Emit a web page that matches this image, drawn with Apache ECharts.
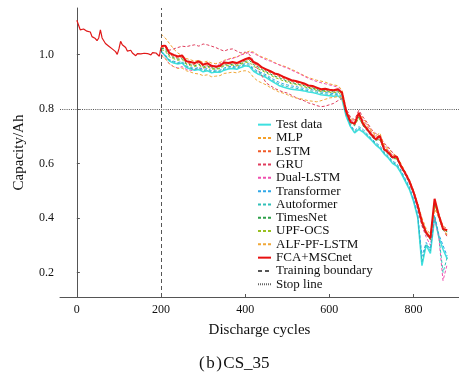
<!DOCTYPE html>
<html>
<head>
<meta charset="utf-8">
<script src="https://cdn.jsdelivr.net/npm/echarts@6/dist/echarts.min.js"></script>
<style>html,body{margin:0;padding:0;background:#fff;}#c{width:459px;height:373px;}</style>
</head>
<body>
<div id="c"></div>
<script>
// ---------- data ----------
const historyCycles = [0,4,8,12,16,20,24,28,32,36,40,44,48,52,56,60,64,68,72,76,80,84,88,92,96,100,104,108,112,116,120,124,128,132,136,140,144,148,152,156,160,164,168,172,176,180,184,188,192,196,200];
const historyCapacity = [1.125,1.118,1.09,1.095,1.093,1.09,1.085,1.078,1.082,1.065,1.072,1.058,1.05,1.06,1.09,1.06,1.05,1.04,1.04,1.03,1.025,1.02,1.018,1.01,1.0,1.02,1.048,1.035,1.03,1.025,1.012,1.018,1.015,1.005,1.01,0.995,1.003,0.998,1.002,0.996,1.004,0.997,1.003,1.005,0.998,1.006,1.002,1.005,1.008,0.993,1.026];

const predCycles = [200,210,220,230,240,250,260,270,280,290,300,310,320,330,340,350,360,370,380,390,400,410,420,430,440,450,460,470,480,490,500,510,520,530,540,550,560,570,580,590,600,610,620,630,640,650,660,670,680,690,700,710,720,730,740,750,760,770,780,790,800,810,820,830,840,850,860,870,880];

const testData = [1.012,0.995,0.975,0.968,0.965,0.968,0.952,0.946,0.942,0.944,0.936,0.940,0.932,0.935,0.934,0.942,0.946,0.948,0.945,0.952,0.958,0.955,0.938,0.928,0.922,0.915,0.905,0.895,0.886,0.880,0.876,0.872,0.870,0.868,0.866,0.862,0.860,0.856,0.852,0.850,0.848,0.846,0.848,0.835,0.772,0.735,0.712,0.725,0.715,0.700,0.685,0.668,0.655,0.635,0.620,0.600,0.590,0.565,0.535,0.505,0.460,0.400,0.225,0.300,0.270,0.400,0.330,0.285,0.250];
const mlp = [1.075,1.06,1.04,1.02,1.005,0.995,0.985,0.98,0.975,0.978,0.97,0.975,0.968,0.966,0.97,0.978,0.982,0.988,0.99,0.998,1.005,1.012,1.008,0.998,0.99,0.985,0.978,0.97,0.962,0.958,0.952,0.945,0.938,0.93,0.922,0.915,0.91,0.905,0.902,0.898,0.892,0.888,0.885,0.87,0.80,0.765,0.755,0.78,0.765,0.745,0.72,0.705,0.69,0.67,0.655,0.64,0.625,0.60,0.57,0.54,0.50,0.45,0.40,0.36,0.34,0.43,0.41,0.37,0.33];
const lstm = [1.025,1.028,1.0,0.992,0.986,0.99,0.97,0.966,0.962,0.97,0.957,0.962,0.953,0.951,0.954,0.965,0.964,0.968,0.963,0.97,0.978,0.982,0.966,0.96,0.948,0.94,0.933,0.925,0.92,0.913,0.907,0.90,0.897,0.893,0.889,0.882,0.88,0.874,0.869,0.87,0.867,0.865,0.868,0.856,0.795,0.76,0.75,0.78,0.75,0.73,0.71,0.694,0.705,0.66,0.645,0.628,0.63,0.596,0.57,0.54,0.50,0.45,0.39,0.35,0.33,0.46,0.415,0.37,0.36];
const gru = [1.03,1.035,1.015,1.02,1.025,1.03,1.028,1.032,1.035,1.03,1.038,1.035,1.03,1.025,1.018,1.012,1.018,1.02,1.012,1.005,1.008,1.0,0.975,0.945,0.92,0.895,0.885,0.875,0.868,0.862,0.858,0.85,0.842,0.835,0.83,0.822,0.818,0.812,0.808,0.81,0.815,0.82,0.83,0.838,0.80,0.77,0.76,0.795,0.77,0.75,0.725,0.71,0.70,0.675,0.66,0.64,0.62,0.595,0.565,0.53,0.49,0.44,0.39,0.35,0.33,0.45,0.40,0.36,0.33];
const dualLstm = [1.0,0.985,0.965,0.955,0.95,0.955,0.945,0.94,0.945,0.95,0.948,0.955,0.955,0.96,0.965,0.975,0.982,0.985,0.99,0.998,1.002,1.008,1.005,0.995,0.988,0.98,0.975,0.968,0.962,0.955,0.95,0.942,0.935,0.928,0.92,0.912,0.906,0.90,0.896,0.892,0.888,0.884,0.88,0.862,0.795,0.76,0.75,0.77,0.76,0.74,0.715,0.70,0.68,0.665,0.648,0.63,0.615,0.59,0.56,0.53,0.49,0.43,0.37,0.33,0.30,0.40,0.33,0.17,0.23];
const transformer = [1.008,0.998,0.98,0.975,0.97,0.974,0.958,0.952,0.948,0.952,0.944,0.948,0.94,0.942,0.942,0.95,0.955,0.956,0.953,0.96,0.966,0.965,0.948,0.938,0.932,0.925,0.915,0.906,0.898,0.892,0.888,0.884,0.882,0.878,0.875,0.872,0.87,0.866,0.862,0.86,0.858,0.856,0.858,0.845,0.78,0.742,0.72,0.735,0.725,0.708,0.692,0.676,0.665,0.642,0.628,0.608,0.60,0.575,0.545,0.515,0.47,0.415,0.26,0.31,0.285,0.41,0.34,0.30,0.26];
const autoformer = [1.01,0.992,0.978,0.972,0.967,0.97,0.955,0.949,0.945,0.948,0.94,0.944,0.936,0.938,0.938,0.946,0.95,0.952,0.949,0.956,0.962,0.96,0.943,0.933,0.927,0.92,0.91,0.90,0.892,0.886,0.882,0.878,0.876,0.873,0.87,0.867,0.865,0.861,0.857,0.855,0.853,0.851,0.853,0.84,0.776,0.738,0.716,0.73,0.72,0.704,0.688,0.672,0.66,0.638,0.624,0.604,0.595,0.57,0.54,0.51,0.465,0.405,0.24,0.305,0.28,0.405,0.335,0.20,0.255];
const timesNet = [1.022,1.02,0.995,0.988,0.982,0.985,0.966,0.962,0.958,0.964,0.953,0.958,0.95,0.948,0.95,0.962,0.96,0.964,0.96,0.967,0.974,0.978,0.962,0.955,0.944,0.936,0.928,0.92,0.915,0.908,0.902,0.896,0.893,0.889,0.885,0.879,0.877,0.871,0.866,0.867,0.864,0.862,0.865,0.852,0.785,0.748,0.738,0.77,0.738,0.72,0.70,0.684,0.69,0.648,0.635,0.617,0.618,0.586,0.56,0.53,0.49,0.44,0.375,0.34,0.32,0.455,0.405,0.355,0.35];
const upfOcs = [1.018,1.012,0.99,0.984,0.978,0.982,0.963,0.958,0.955,0.96,0.95,0.955,0.946,0.945,0.948,0.958,0.958,0.96,0.957,0.964,0.97,0.972,0.956,0.948,0.94,0.932,0.924,0.915,0.91,0.903,0.898,0.892,0.889,0.885,0.881,0.876,0.873,0.868,0.863,0.864,0.861,0.859,0.862,0.85,0.79,0.755,0.742,0.765,0.742,0.725,0.705,0.69,0.685,0.655,0.64,0.622,0.615,0.59,0.565,0.535,0.495,0.445,0.38,0.345,0.33,0.445,0.41,0.365,0.345];
const alfPfLstm = [0.995,0.985,0.965,0.955,0.948,0.95,0.94,0.935,0.93,0.928,0.922,0.925,0.918,0.92,0.922,0.93,0.932,0.935,0.932,0.938,0.94,0.935,0.915,0.902,0.895,0.888,0.878,0.87,0.862,0.858,0.852,0.845,0.84,0.838,0.834,0.83,0.828,0.826,0.83,0.835,0.84,0.842,0.845,0.84,0.785,0.755,0.745,0.775,0.755,0.735,0.715,0.70,0.712,0.665,0.65,0.632,0.62,0.595,0.565,0.535,0.50,0.45,0.39,0.35,0.33,0.44,0.40,0.36,0.34];
const fcaMscnet = [1.030,1.032,1.005,0.998,0.992,0.996,0.975,0.972,0.968,0.975,0.962,0.968,0.958,0.955,0.958,0.970,0.968,0.972,0.968,0.975,0.982,0.988,0.972,0.965,0.952,0.945,0.938,0.930,0.926,0.918,0.912,0.905,0.902,0.898,0.893,0.886,0.884,0.878,0.872,0.874,0.870,0.868,0.872,0.860,0.790,0.752,0.745,0.785,0.745,0.725,0.705,0.688,0.700,0.652,0.640,0.622,0.625,0.590,0.565,0.535,0.495,0.445,0.385,0.345,0.325,0.470,0.410,0.360,0.355];

const trainingBoundary = 200;
const stopLine = 0.8;
const xTicks = [0,200,400,600,800];
const yTicks = [0.2,0.4,0.6,0.8,1.0];

// ---------- chart ----------
const FONT = "'Liberation Serif', 'DejaVu Serif', serif";
const zip = (xs, ys) => xs.map((x, i) => [x, ys[i]]);

const predSeries = [
  {name:'Test data', data:testData, color:'#3ee0e0', type:'solid', width:1.5},
  {name:'MLP', data:mlp, color:'#f5a02a', type:[3,2], width:1},
  {name:'LSTM', data:lstm, color:'#f05a28', type:[3,2], width:1},
  {name:'GRU', data:gru, color:'#e03c5c', type:[3,2], width:1},
  {name:'Dual-LSTM', data:dualLstm, color:'#f050b0', type:[3,2], width:1},
  {name:'Transformer', data:transformer, color:'#30a8e8', type:[3,2], width:1},
  {name:'Autoformer', data:autoformer, color:'#30c0b8', type:[3,2], width:1},
  {name:'TimesNet', data:timesNet, color:'#2ea04a', type:[3,2], width:1},
  {name:'UPF-OCS', data:upfOcs, color:'#98c020', type:[3,2], width:1},
  {name:'ALF-PF-LSTM', data:alfPfLstm, color:'#f0a838', type:[3,2], width:1},
  {name:'FCA+MSCnet', data:fcaMscnet, color:'#e81010', type:'solid', width:2}
];

const series = [];
series.push({
  name:'history', type:'line', data: zip(historyCycles, historyCapacity),
  showSymbol:false, symbol:'none', lineStyle:{color:'#e01818', width:1.2}, color:'#e01818', silent:true, z:3
});
predSeries.forEach((s, i) => {
  series.push({
    name:s.name, type:'line', data: zip(predCycles, s.data), symbol:'none', showSymbol:false,
    color:s.color, lineStyle:{color:s.color, width:s.width, type:s.type}, z: (s.name==='FCA+MSCnet') ? 5 : 3
  });
});
series.push({
  name:'Training boundary', type:'line', data:[], symbol:'none', color:'#555',
  lineStyle:{color:'#555', width:1, type:[4,3]},
  markLine:{silent:true, symbol:'none', label:{show:false},
    lineStyle:{color:'#555', width:1, type:[4,3]}, data:[{xAxis:trainingBoundary}]}
});
series.push({
  name:'Stop line', type:'line', data:[], symbol:'none', color:'#666',
  lineStyle:{color:'#666', width:1, type:[1,1]},
  markLine:{silent:true, symbol:'none', label:{show:false},
    lineStyle:{color:'#555', width:1.2, type:[1,1.2]}, data:[{yAxis:stopLine}]}
});

const legendNames = ['Test data','MLP','LSTM','GRU','Dual-LSTM','Transformer','Autoformer','TimesNet','UPF-OCS','ALF-PF-LSTM','FCA+MSCnet','Training boundary','Stop line'];

const chart = echarts.init(document.getElementById('c'), null, {renderer:'canvas'});
chart.setOption({
  animation:false,
  backgroundColor:'#fff',
  grid:{left:60, right:0, top:8, bottom:76, containLabel:false},
  xAxis:{
    type:'value', min:-40, max:908,
    name:'Discharge cycles', nameLocation:'middle', nameGap:26,
    nameTextStyle:{fontFamily:FONT, fontSize:15, color:'#111'},
    axisLine:{lineStyle:{color:'#555', width:1}},
    axisTick:{inside:true, length:3, customValues:xTicks, lineStyle:{color:'#555'}},
    axisLabel:{customValues:xTicks, fontFamily:FONT, fontSize:12, color:'#111', margin:7},
    splitLine:{show:false}
  },
  yAxis:{
    type:'value', min:0.11, max:1.17,
    name:'Capacity/Ah', nameLocation:'middle', nameGap:33,
    nameTextStyle:{fontFamily:FONT, fontSize:15, color:'#111'},
    axisLine:{show:true, lineStyle:{color:'#555', width:1}},
    axisTick:{show:true, inside:true, length:3, customValues:yTicks, lineStyle:{color:'#555'}},
    axisLabel:{customValues:yTicks, fontFamily:FONT, fontSize:12, color:'#111', margin:6,
      formatter:(v)=>v.toFixed(1)},
    splitLine:{show:false}
  },
  legend:{
    orient:'vertical', left:252, top:113,
    itemWidth:13, itemHeight:8, itemGap:0,
    itemStyle:{opacity:0},
    textStyle:{fontFamily:FONT, fontSize:13, color:'#111', lineHeight:13.3},
    data:legendNames,
    selectedMode:false
  },
  graphic:[{
    type:'text', left:199, top:355,
    style:{
      text:'{p|(}b{p|)}CS_35',
      font:"17px 'Liberation Serif', serif", fill:'#111',
      rich:{p:{fontFamily:FONT, fontSize:17, padding:[0,1.5,0,1.5]}}
    }
  }],
  series:series
});
</script>
</body>
</html>
